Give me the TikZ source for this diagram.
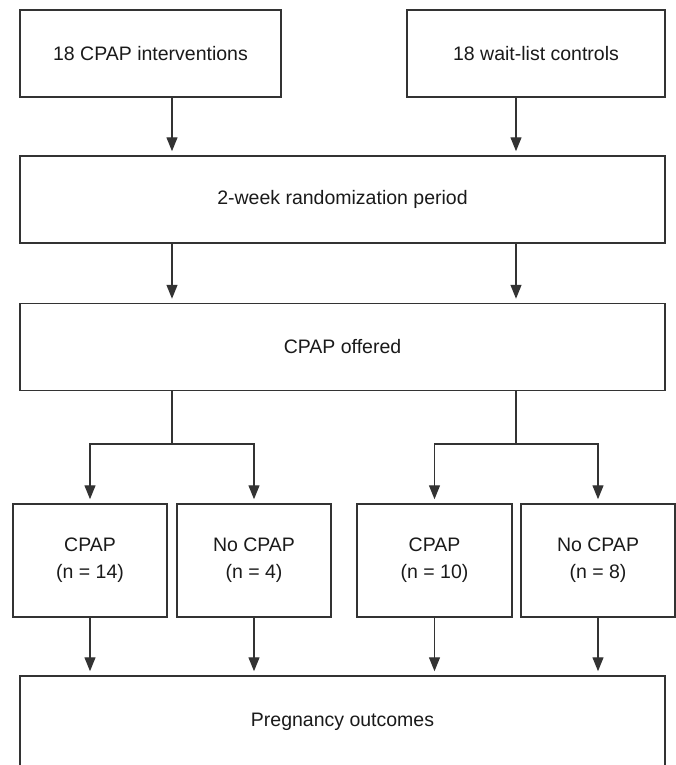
\documentclass[tikz,border=0pt]{standalone}
\usepackage{fontspec}
\setmainfont{Liberation Sans}
\usepackage{tikz}
\usetikzlibrary{arrows.meta,positioning,calc}
\definecolor{boxline}{HTML}{333333}
\definecolor{ink}{HTML}{1A1A1A}
\tikzset{
  flowbox/.style={rectangle,draw=boxline,line width=1.5pt,fill=white,text=ink,
    align=center,font=\fontsize{19.5}{27}\selectfont,inner sep=0pt,
    minimum height=87pt},
  armbox/.style={flowbox,minimum height=113pt,minimum width=154pt},
  flowline/.style={line width=1.3pt,color=boxline},
  flowarr/.style={flowline,shorten >=4pt,-{Triangle[length=14pt,width=11pt]}},
}

\begin{document}
\begin{tikzpicture}[x=1pt,y=-1pt, node distance=59pt and 10pt]
  \useasboundingbox (0,0) rectangle (676,765);
  \coordinate (colL) at (172,0);
  \coordinate (colR) at (516,0);

  \node[flowbox,minimum width=261pt] (cpap) at (150.5,53.5) {18 CPAP interventions};
  \node[flowbox,minimum width=258pt] (wait) at (536,53.5) {18 wait-list controls};

  \node[flowbox,minimum width=645pt] (rand) at (342.5,199.5) {2-week randomization period};
  \node[flowbox,minimum width=645pt, below=59pt of rand] (offer) {CPAP offered};

  \node[armbox] (yesA) at (90,560.5) {CPAP\\(n = 14)};
  \node[armbox] (noA) at (254,560.5) {No CPAP\\(n = 4)};
  \node[armbox,minimum width=155pt] (yesB) at (434.5,560.5) {CPAP\\(n = 10)};
  \node[armbox] (noB) at (598,560.5) {No CPAP\\(n = 8)};

  \node[flowbox,minimum width=645pt,minimum height=92pt] (preg) at (342.5,722) {Pregnancy outcomes};

  \coordinate (splitL) at (172,444);
  \coordinate (splitR) at (516,444);

  \draw[flowarr] (cpap.south -| colL) -- (rand.north -| colL);
  \draw[flowarr] (wait.south -| colR) -- (rand.north -| colR);
  \draw[flowarr] (rand.south -| colL) -- (offer.north -| colL);
  \draw[flowarr] (rand.south -| colR) -- (offer.north -| colR);

  \draw[flowline] (offer.south -| splitL) -- (splitL);
  \draw[flowarr] (splitL) -| (yesA.north);
  \draw[flowarr] (splitL) -| (noA.north);
  \draw[flowline] (offer.south -| splitR) -- (splitR);
  \draw[flowarr] (splitR) -| (yesB.north);
  \draw[flowarr] (splitR) -| (noB.north);

  \draw[flowarr] (yesA) -- (preg.north -| yesA);
  \draw[flowarr] (noA) -- (preg.north -| noA);
  \draw[flowarr] (yesB) -- (preg.north -| yesB);
  \draw[flowarr] (noB) -- (preg.north -| noB);
\end{tikzpicture}
\end{document}
